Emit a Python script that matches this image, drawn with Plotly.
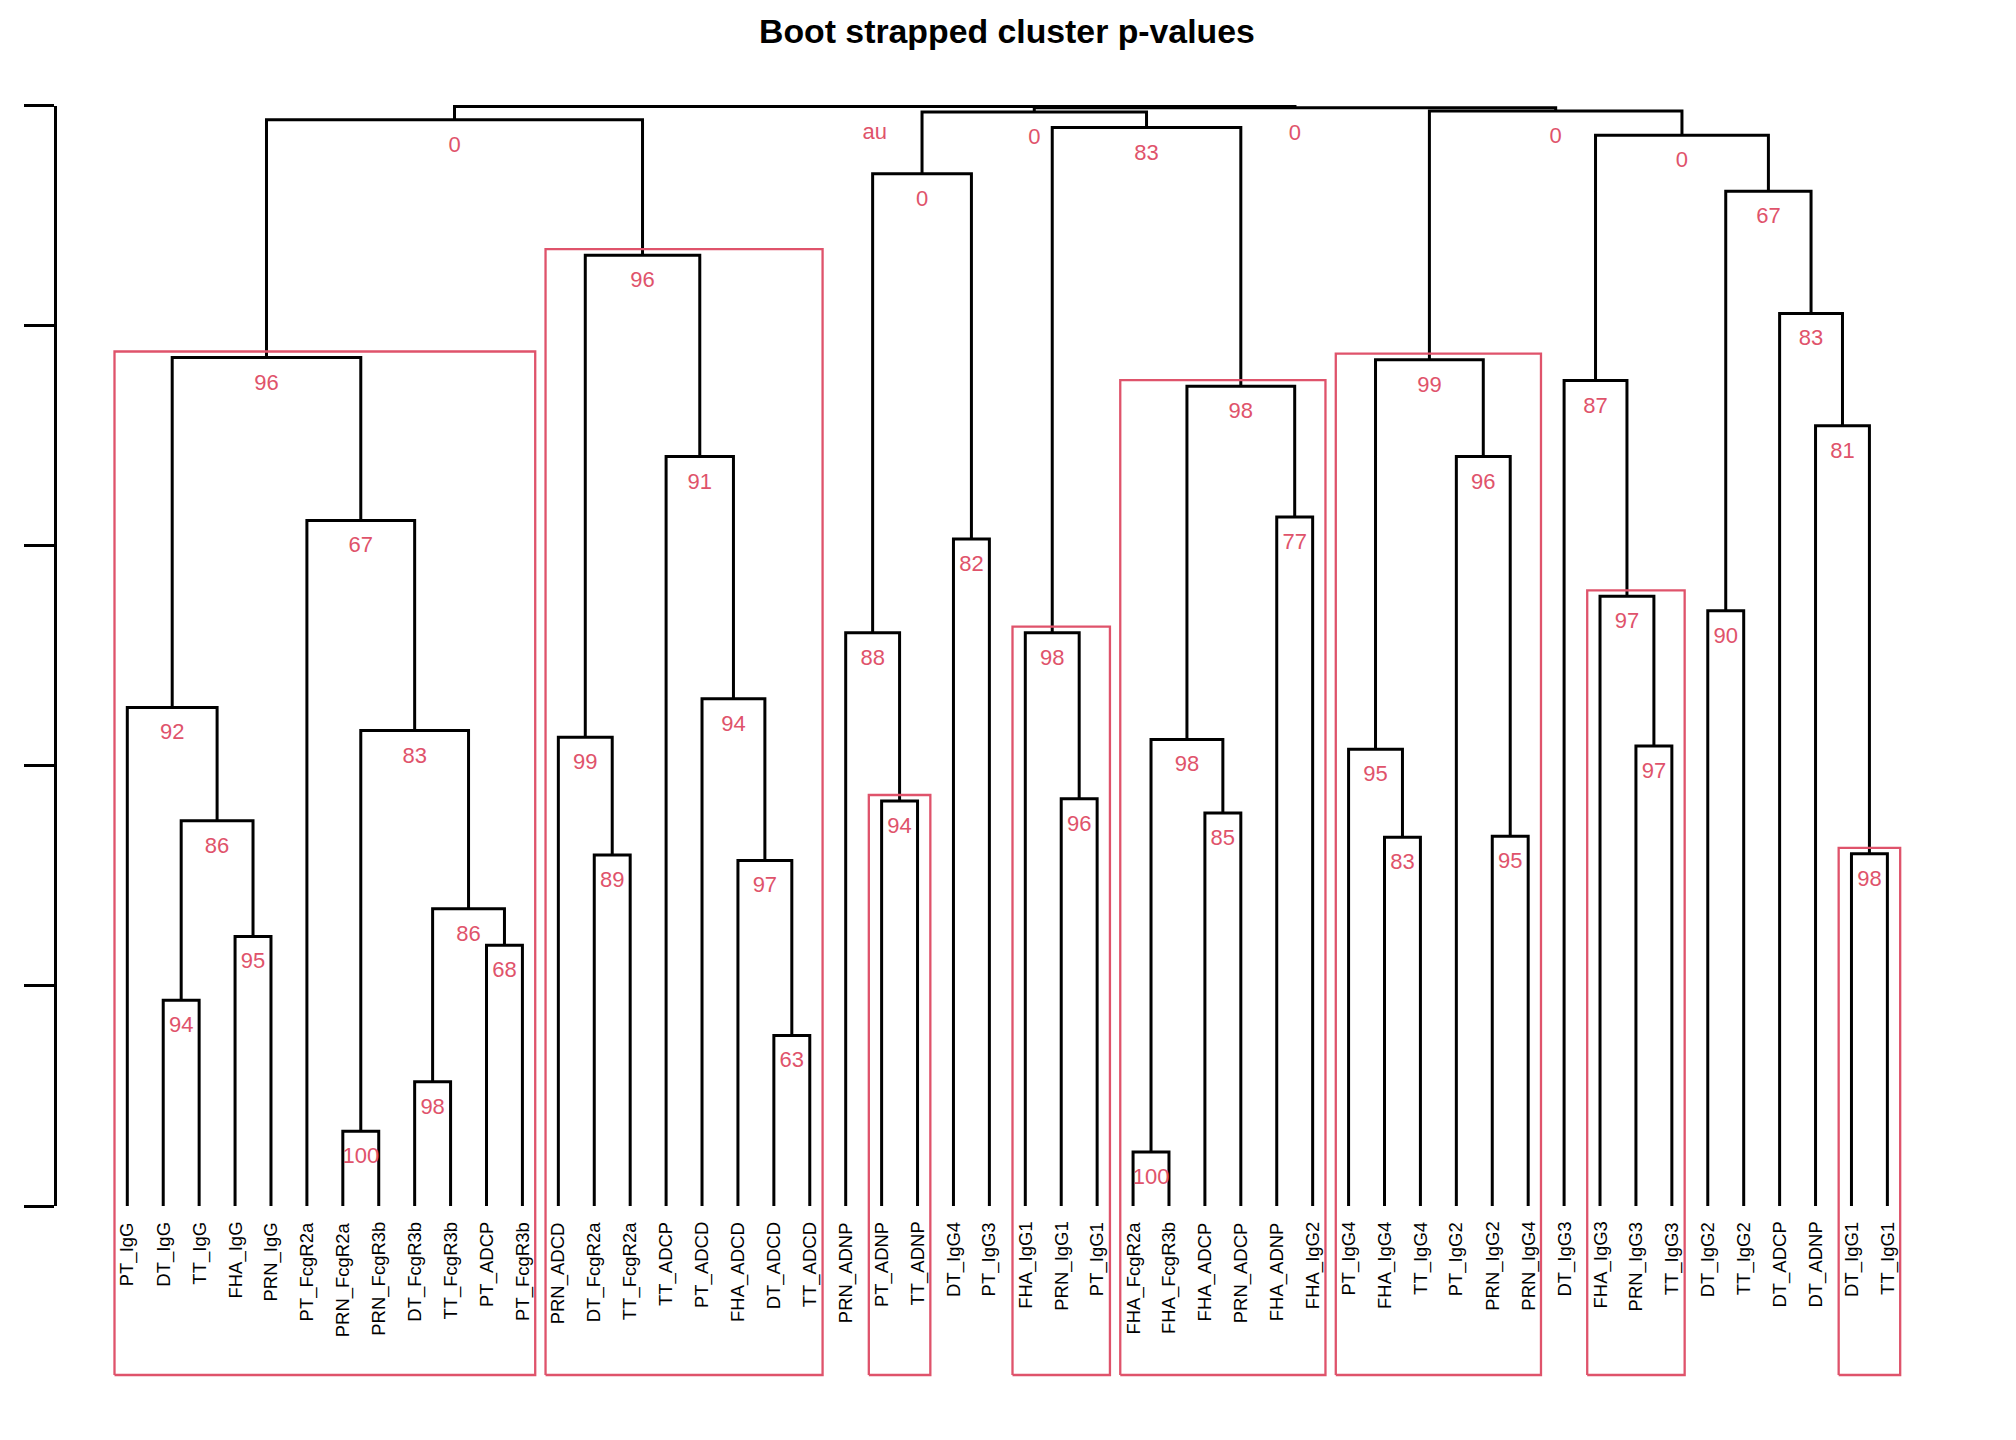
import plotly.graph_objects as go

# ---------------- data ----------------
leaf_labels = [
    "PT_IgG", "DT_IgG", "TT_IgG", "FHA_IgG", "PRN_IgG", "PT_FcgR2a", "PRN_FcgR2a",
    "PRN_FcgR3b", "DT_FcgR3b", "TT_FcgR3b", "PT_ADCP", "PT_FcgR3b",
    "PRN_ADCD", "DT_FcgR2a", "TT_FcgR2a", "TT_ADCP", "PT_ADCD", "FHA_ADCD", "DT_ADCD", "TT_ADCD",
    "PRN_ADNP", "PT_ADNP", "TT_ADNP", "DT_IgG4", "PT_IgG3",
    "FHA_IgG1", "PRN_IgG1", "PT_IgG1",
    "FHA_FcgR2a", "FHA_FcgR3b", "FHA_ADCP", "PRN_ADCP", "FHA_ADNP", "FHA_IgG2",
    "PT_IgG4", "FHA_IgG4", "TT_IgG4", "PT_IgG2", "PRN_IgG2", "PRN_IgG4",
    "DT_IgG3", "FHA_IgG3", "PRN_IgG3", "TT_IgG3",
    "DT_IgG2", "TT_IgG2", "DT_ADCP", "DT_ADNP", "DT_IgG1", "TT_IgG1",
]

# R-style merge matrix: negative = leaf (1-based), positive = earlier merge (1-based)
merge_left = [-2, -4, 1, -1, -7, -9, -11, 6, 5, -6, 4,
              -14, -13, -19, -18, -17, -16, 13, 11,
              -22, -21, -24, 21,
              -27, -26, -29, -31, 26, -33, 28, 25, 23,
              -36, -35, -39, -38, 34,
              -43, -42, -41, -49, -48, -47, -45, 44, 40, 37, 32, 19]
merge_right = [-3, -5, 2, 3, -8, -10, -12, 7, 8, 9, 10,
               -15, 12, -20, 14, 15, 16, 17, 18,
               -23, 20, -25, 22,
               -28, 24, -30, -32, 27, -34, 29, 30, 31,
               -37, 33, -40, 35, 36,
               -44, 38, 39, -50, 41, 42, -46, 43, 45, 46, 47, 48]
merge_height = [0.187, 0.245, 0.350, 0.453, 0.068, 0.113, 0.237, 0.270, 0.432, 0.623, 0.771,
                0.319, 0.426, 0.155, 0.314, 0.461, 0.681, 0.864, 0.987,
                0.368, 0.521, 0.606, 0.938,
                0.370, 0.521, 0.049, 0.357, 0.424, 0.626, 0.745, 0.980, 0.994,
                0.335, 0.415, 0.336, 0.681, 0.769,
                0.418, 0.554, 0.750, 0.320, 0.709, 0.811, 0.541, 0.922, 0.973, 0.995, 0.998, 0.999]
au_labels = ["94", "95", "86", "92", "100", "98", "68", "86", "83", "67", "96",
             "89", "99", "63", "97", "94", "91", "96", "0",
             "94", "88", "82", "0",
             "96", "98", "100", "85", "98", "77", "98", "83", "0",
             "83", "95", "95", "96", "99",
             "97", "97", "87", "98", "81", "83", "90", "67", "0", "0", "0", "au"]

# merges highlighted by pvrect (1-based merge index)
rect_nodes = [11, 18, 20, 25, 30, 37, 39, 41]

y_ticks = [0.0, 0.2, 0.4, 0.6, 0.8, 1.0]
title_text = "Boot strapped cluster p-values"

# ---------------- layout geometry (page pixels, minus body margin) ----------------
OFF = 8
W, H = 2016 - 2 * OFF, 1440 - 2 * OFF
PX_UNIT_X = 35.92
PX_UNIT_Y = 1100.5
AX_LEFT = 57.0 - OFF
LEAF0_PX = 127.3 - OFF
ZERO_PY = 1206.0 - OFF
RED = "#DF536B"

x0 = -(LEAF0_PX - AX_LEFT) / PX_UNIT_X
x1 = x0 + (W - AX_LEFT) / PX_UNIT_X
ylo = -(H - ZERO_PY) / PX_UNIT_Y
yhi = ZERO_PY / PX_UNIT_Y

# ---------------- compute node positions ----------------
n_merge = len(merge_height)
node_x, node_h, node_min, node_max = [], [], [], []


def child_info(c):
    if c < 0:
        i = -c - 1
        return float(i), 0.0, i, i
    k = c - 1
    return node_x[k], node_h[k], node_min[k], node_max[k]


line_x, line_y = [], []
for k in range(n_merge):
    xl, hl, mnl, mxl = child_info(merge_left[k])
    xr, hr, mnr, mxr = child_info(merge_right[k])
    h = merge_height[k]
    node_x.append((xl + xr) / 2)
    node_h.append(h)
    node_min.append(min(mnl, mnr))
    node_max.append(max(mxl, mxr))
    line_x += [xl, xl, xr, xr, None]
    line_y += [hl, h, h, hr, None]

fig = go.Figure()

fig.add_trace(go.Scatter(x=line_x, y=line_y, mode="lines",
                         line=dict(color="black", width=3),
                         hoverinfo="skip", showlegend=False))

# pvrect rectangles
rect_bottom = -(1375 - 1206) / PX_UNIT_Y
pad_top = 6.0 / PX_UNIT_Y
rect_pad = 12.8 / PX_UNIT_X
for r in rect_nodes:
    k = r - 1
    xa = node_min[k] - rect_pad
    xb = node_max[k] + rect_pad
    yt = node_h[k] + pad_top
    fig.add_trace(go.Scatter(x=[xa, xa, xb, xb, xa],
                             y=[rect_bottom, yt, yt, rect_bottom, rect_bottom],
                             mode="lines", line=dict(color=RED, width=2.3),
                             hoverinfo="skip", showlegend=False))

# au labels
lab_off = 26.5 / PX_UNIT_Y
fig.add_trace(go.Scatter(x=node_x, y=[h - lab_off for h in node_h], mode="text",
                         text=au_labels, textposition="middle center",
                         textfont=dict(family="Liberation Sans, Arial", size=22, color=RED),
                         hoverinfo="skip", showlegend=False, cliponaxis=False))

# dummy trace for the height axis
fig.add_trace(go.Scatter(x=[x0], y=[0], xaxis="x", yaxis="y2", mode="markers",
                         marker=dict(opacity=0), hoverinfo="skip", showlegend=False))

annotations = []
leaf_top = -(1220 - 1206) / PX_UNIT_Y
for i, lab in enumerate(leaf_labels):
    annotations.append(dict(x=i, y=leaf_top, xref="x", yref="y", text=lab,
                            textangle=-90, showarrow=False, xanchor="center", yanchor="top",
                            font=dict(family="Liberation Sans, Arial", size=18.5, color="black")))

annotations.append(dict(x=(1007 - OFF) / W, y=1 - (31 - OFF) / H, xref="paper", yref="paper",
                        text="<b>" + title_text + "</b>", showarrow=False,
                        xanchor="center", yanchor="middle",
                        font=dict(family="Liberation Sans, Arial", size=33.8, color="black")))

fig.update_layout(
    width=W, height=H, margin=dict(l=0, r=0, t=0, b=0),
    plot_bgcolor="rgba(0,0,0,0)", paper_bgcolor="white",
    xaxis=dict(domain=[AX_LEFT / W, 1], range=[x0, x1], visible=False, fixedrange=True),
    yaxis=dict(domain=[0, 1], range=[ylo, yhi], visible=False),
    yaxis2=dict(domain=[1 - ZERO_PY / H, 1 - (ZERO_PY - PX_UNIT_Y) / H], range=[0, 1],
                anchor="x", showline=True, linecolor="black", linewidth=3,
                ticks="outside", ticklen=30, tickwidth=3, tickcolor="black",
                tickvals=y_ticks, showticklabels=False, showgrid=False, zeroline=False),
    annotations=annotations,
    showlegend=False,
)

fig.write_html("out.html")
